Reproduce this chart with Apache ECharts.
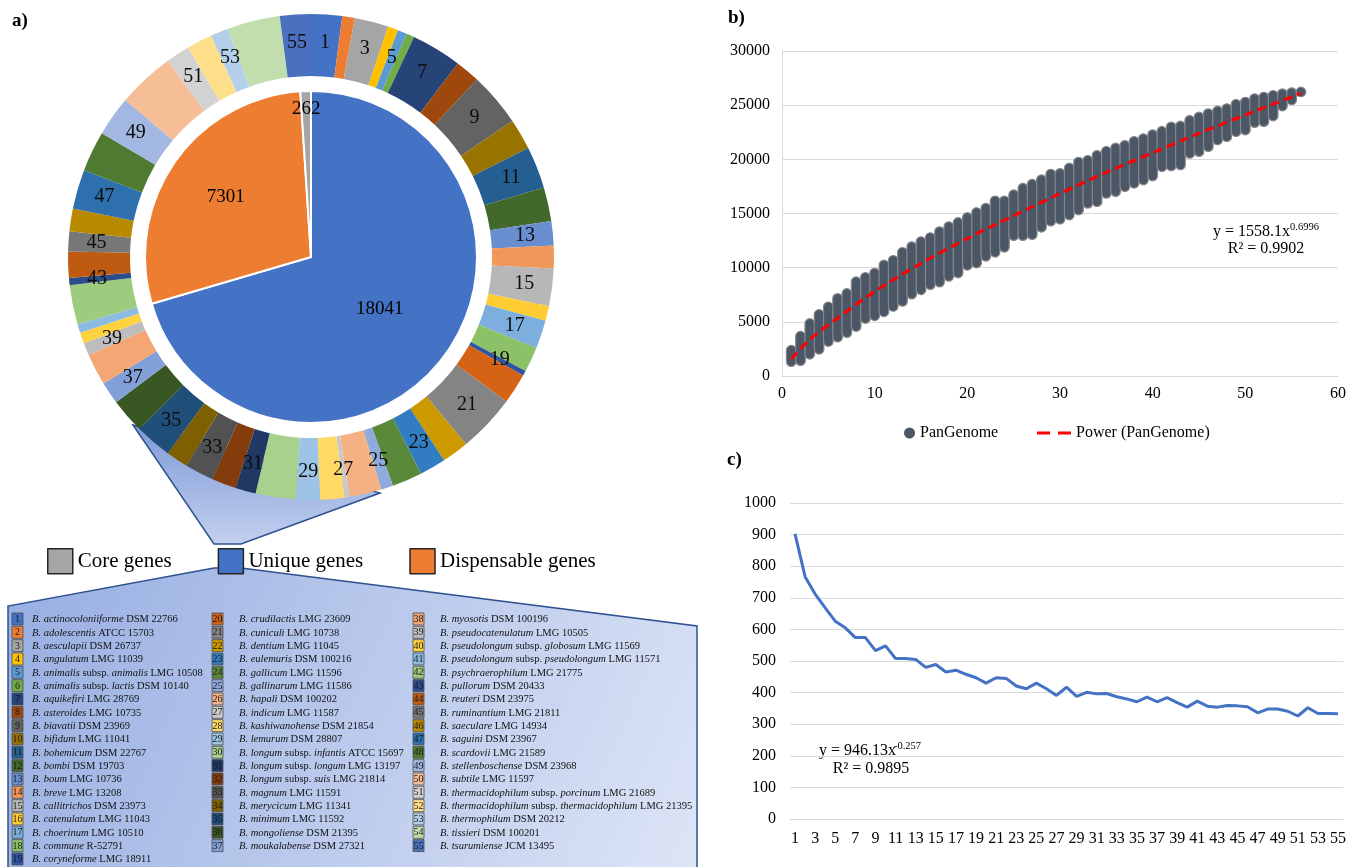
<!DOCTYPE html>
<html><head><meta charset="utf-8">
<script src="https://cdn.jsdelivr.net/npm/echarts@6/dist/echarts.min.js"></script>
<style>html,body{margin:0;padding:0;background:#fff}#c{width:1349px;height:867px}</style>
</head><body><div id="c"></div>
<script>
// ---------- Panel a data ----------
const innerNames = ['Unique genes', 'Dispensable genes', 'Core genes'];
const innerValues = [18041, 7301, 262];
const innerColors = ['#4472C4', '#ED7D31', '#A5A5A5'];
const legendOrder = ['Core genes', 'Unique genes', 'Dispensable genes'];

const strainIds = [1,2,3,4,5,6,7,8,9,10,11,12,13,14,15,16,17,18,19,20,21,22,23,24,25,26,27,28,29,30,31,32,33,34,35,36,37,38,39,40,41,42,43,44,45,46,47,48,49,50,51,52,53,54,55];
const uniqueGenes = [371,150,406,125,110,95,606,296,646,371,501,406,291,271,451,175,341,301,60,366,696,321,316,361,145,381,60,296,286,481,246,291,346,266,441,421,266,381,150,130,105,471,85,316,240,271,471,486,481,686,286,306,215,631,371];
const strainColors = ['#4472C4','#ED7D31','#A5A5A5','#FFC000','#5B9BD5','#70AD47','#264478','#9E480E','#636363','#997300','#255E91','#43682B','#698ED0','#F1975A','#B7B7B7','#FFCD33','#7CAFDD','#8CC168','#2F55A0','#D46316','#848484','#CC9A00','#327DC2','#5A8A39','#8FAADC','#F4B183','#C9C9C9','#FFD966','#9DC3E6','#A9D18E','#203864','#843C0C','#525252','#7F6000','#1F4E79','#385723','#839FD8','#F4A774','#BDBDBD','#FFD33F','#8DBAE2','#9DCC7E','#2C4D8A','#BE5A12','#777777','#B88A00','#2E6FAE','#4F7A32','#A2B7E2','#F6BE96','#D2D2D2','#FFE08A','#B3CFEA','#C2DEAF','#4B70C0'];
const strainNames = [
'_B. actinocoloniiforme_ DSM 22766','_B. adolescentis_ ATCC 15703','_B. aesculapii_ DSM 26737','_B. angulatum_ LMG 11039',
'_B. animalis_ subsp. _animalis_ LMG 10508','_B. animalis_ subsp. _lactis_ DSM 10140','_B. aquikefiri_ LMG 28769','_B. asteroides_ LMG 10735',
'_B. biavatii_ DSM 23969','_B. bifidum_ LMG 11041','_B. bohemicum_ DSM 22767','_B. bombi_ DSM 19703','_B. boum_ LMG 10736',
'_B. breve_ LMG 13208','_B. callitrichos_ DSM 23973','_B. catenulatum_ LMG 11043','_B. choerinum_ LMG 10510','_B. commune_ R-52791',
'_B. coryneforme_ LMG 18911','_B. crudilactis_ LMG 23609','_B. cuniculi_ LMG 10738','_B. dentium_ LMG 11045','_B. eulemuris_ DSM 100216',
'_B. gallicum_ LMG 11596','_B. gallinarum_ LMG 11586','_B. hapali_ DSM 100202','_B. indicum_ LMG 11587','_B. kashiwanohense_ DSM 21854',
'_B. lemurum_ DSM 28807','_B. longum_ subsp. _infantis_ ATCC 15697','_B. longum_ subsp. _longum_ LMG 13197','_B. longum_ subsp. _suis_ LMG 21814',
'_B. magnum_ LMG 11591','_B. merycicum_ LMG 11341','_B. minimum_ LMG 11592','_B. mongoliense_ DSM 21395','_B. moukalabense_ DSM 27321',
'_B. myosotis_ DSM 100196','_B. pseudocatenulatum_ LMG 10505','_B. pseudolongum_ subsp. _globosum_ LMG 11569',
'_B. pseudolongum_ subsp. _pseudolongum_ LMG 11571','_B. psychraerophilum_ LMG 21775','_B. pullorum_ DSM 20433','_B. reuteri_ DSM 23975',
'_B. ruminantium_ LMG 21811','_B. saeculare_ LMG 14934','_B. saguini_ DSM 23967','_B. scardovii_ LMG 21589','_B. stellenboschense_ DSM 23968',
'_B. subtile_ LMG 11597','_B. thermacidophilum_ subsp. _porcinum_ LMG 21689','_B. thermacidophilum_ subsp. _thermacidophilum_ LMG 21395',
'_B. thermophilum_ DSM 20212','_B. tissieri_ DSM 100201','_B. tsurumiense_ JCM 13495'];

// ---------- Panel b data (pan-genome size per number of genomes: read min/max of each column) ----------
const panX = [1,2,3,4,5,6,7,8,9,10,11,12,13,14,15,16,17,18,19,20,21,22,23,24,25,26,27,28,29,30,31,32,33,34,35,36,37,38,39,40,41,42,43,44,45,46,47,48,49,50,51,52,53,54,55,56];
const panMax = [2380,3670,4850,5680,6390,7160,7620,8700,9100,9500,10250,10680,11420,11940,12400,12780,13330,13790,14170,14630,15090,15490,16170,16170,16730,17340,17710,18120,18640,18700,19200,19750,19910,20370,20740,21050,21290,21660,21910,22280,22590,22990,23080,23600,23910,24220,24460,24680,25080,25290,25600,25750,25910,26060,26160,26220];
const panMin = [1330,1420,2010,2470,3180,3580,4010,4570,5310,5560,5930,6420,6880,7560,7960,8430,8670,9200,9510,10220,10430,11050,11420,11880,12960,12960,13050,13730,14290,14480,14860,15320,15940,16090,16860,17020,17480,17790,18090,18460,19320,19390,19480,20550,20710,21170,21790,22090,22550,22710,23390,23480,24000,24920,25480,26220];
const trendX = [1,3,6,10,15,20,25,30,35,40,45,50,56];
const trendY = [1560,3380,5350,7800,10400,12700,14800,16850,18800,20600,22400,24100,26100];
const xTicksB = [0,10,20,30,40,50,60];
const yTicksB = [0,5000,10000,15000,20000,25000,30000];

// ---------- Panel c data (new genes) ----------
const newGenesX = ['1','2','3','4','5','6','7','8','9','10','11','12','13','14','15','16','17','18','19','20','21','22','23','24','25','26','27','28','29','30','31','32','33','34','35','36','37','38','39','40','41','42','43','44','45','46','47','48','49','50','51','52','53','54','55'];
const newGenesY = [902,767,712,668,626,605,574,574,533,548,508,508,505,480,489,465,471,458,447,430,447,445,421,412,430,412,391,417,388,401,396,397,387,380,371,386,371,384,368,354,373,357,354,359,358,355,336,348,348,341,326,352,334,334,333];
const yTicksC = [0,100,200,300,400,500,600,700,800,900,1000];

// ---------- build ----------
const serif = "'Liberation Serif','Times New Roman',serif";
const chart = echarts.init(document.getElementById('c'));

function richName(s) {
  const parts = s.split('_');
  let out = '';
  parts.forEach((p, k) => { if (p.length) out += '{' + (k % 2 ? 'i' : 'n') + '|' + p + '}'; });
  return out;
}

const graphics = [];
// callout shapes
graphics.push({type:'polygon', z:0, shape:{points:[[133,425],[380,493],[241,544],[214,544]]},
  style:{fill:new echarts.graphic.LinearGradient(0,0,0,1,[{offset:0,color:'#7E9AD6'},{offset:1,color:'#C3D0EF'}]), stroke:'#2F528F', lineWidth:1.5}});
graphics.push({type:'polygon', z:0, shape:{points:[[214,568],[241,568],[697,626],[697,872],[8,872],[8,606]]},
  style:{fill:new echarts.graphic.LinearGradient(0,0,1,1,[{offset:0,color:'#97AEE2'},{offset:1,color:'#DDE5F6'}]), stroke:'#2F528F', lineWidth:1.5}});
// table
const colBoxX = [12, 212, 413], colTextX = [32, 239, 440];
const tFont = 10.5;
strainIds.forEach((id, i) => {
  let col, row;
  if (i < 19) { col = 0; row = i; } else if (i < 37) { col = 1; row = i - 19; } else { col = 2; row = i - 37; }
  const yc = 619 + row * 13.33;
  graphics.push({type:'rect', z:2, shape:{x:colBoxX[col], y:yc-6, width:11, height:12}, style:{fill:strainColors[i], stroke:'#4d4d4d', lineWidth:0.8}});
  graphics.push({type:'text', z:3, x:colBoxX[col]+5.5, y:yc+0.5, style:{text:String(id), align:'center', verticalAlign:'middle', fontSize:10, fontFamily:serif, fill:'#1a1a1a'}});
  graphics.push({type:'text', z:3, x:colTextX[col], y:yc+0.5, style:{text:richName(strainNames[i]), verticalAlign:'middle', fontSize:tFont, fontFamily:serif, fill:'#111',
    rich:{i:{fontStyle:'italic', fontSize:tFont, fontFamily:serif, fill:'#111', color:'#111'}, n:{fontSize:tFont, fontFamily:serif, fill:'#111', color:'#111'}}}});
});
// panel titles
graphics.push({type:'text', x:12, y:12, style:{text:'a)', fontSize:19, fontWeight:'bold', fontFamily:serif, fill:'#000'}});
graphics.push({type:'text', x:728, y:9, style:{text:'b)', fontSize:19, fontWeight:'bold', fontFamily:serif, fill:'#000'}});
graphics.push({type:'text', x:727, y:451, style:{text:'c)', fontSize:19, fontWeight:'bold', fontFamily:serif, fill:'#000'}});
// equations
graphics.push({type:'text', x:1213, y:232, style:{text:'y = 1558.1x', verticalAlign:'middle', fontSize:16, fontFamily:serif, fill:'#000'}});
graphics.push({type:'text', x:1290, y:227, style:{text:'0.6996', verticalAlign:'middle', fontSize:10.5, fontFamily:serif, fill:'#000'}});
graphics.push({type:'text', x:1266, y:249, style:{text:'R² = 0.9902', align:'center', verticalAlign:'middle', fontSize:16, fontFamily:serif, fill:'#000'}});
graphics.push({type:'text', x:819, y:751, style:{text:'y = 946.13x', verticalAlign:'middle', fontSize:16, fontFamily:serif, fill:'#000'}});
graphics.push({type:'text', x:894, y:746, style:{text:'-0.257', verticalAlign:'middle', fontSize:10.5, fontFamily:serif, fill:'#000'}});
graphics.push({type:'text', x:871, y:769, style:{text:'R² = 0.9895', align:'center', verticalAlign:'middle', fontSize:16, fontFamily:serif, fill:'#000'}});

const innerData = innerNames.map((n, i) => ({name:n, value:innerValues[i], itemStyle:{color:innerColors[i]}}));
const innerGhost = innerNames.map((n, i) => ({name:n, value:innerValues[i]}));
const labelFont = {fontSize:19, fontFamily:serif, color:'#000'};
const axisLabelStyle = {fontSize:16, fontFamily:serif, color:'#000', formatter:v => String(v)};

const option = {
  animation:false,
  backgroundColor:'#fff',
  legend:[
    {data:legendOrder, left:42, top:543, orient:'horizontal', itemWidth:25, itemHeight:25, itemGap:46, icon:'rect', selectedMode:false,
     textStyle:{fontSize:21, fontFamily:serif, color:'#000'}, itemStyle:{borderColor:'#262626', borderWidth:1.5}},
    {data:[{name:'PanGenome', icon:'circle'}], left:899, top:420, itemWidth:11, itemHeight:11, selectedMode:false,
     textStyle:{fontSize:16, fontFamily:serif, color:'#000'}},
    {data:[{name:'Power (PanGenome)', icon:'path://M0,0h13v3h-13z M21,0h13v3h-13z'}], left:1032, top:420, itemWidth:34, itemHeight:3, selectedMode:false,
     itemStyle:{color:'#FF0000'}, textStyle:{fontSize:16, fontFamily:serif, color:'#000'}}
  ],
  grid:[
    {left:782, top:51, width:558, height:325},
    {left:790, top:503, width:557, height:316}
  ],
  xAxis:[
    {gridIndex:0, type:'value', min:xTicksB[0], max:xTicksB[xTicksB.length-1], interval:10,
     axisLine:{show:true, lineStyle:{color:'#D9D9D9'}}, axisTick:{show:false}, splitLine:{show:false},
     axisLabel:Object.assign({margin:10}, axisLabelStyle)},
    {gridIndex:1, type:'category', data:newGenesX, boundaryGap:true,
     axisLine:{show:true, lineStyle:{color:'#D9D9D9'}}, axisTick:{show:false},
     axisLabel:{margin:12, interval:1, fontSize:16, fontFamily:serif, color:'#000'}}
  ],
  yAxis:[
    {gridIndex:0, type:'value', min:yTicksB[0], max:yTicksB[yTicksB.length-1], interval:5000,
     axisLine:{show:true, lineStyle:{color:'#D9D9D9'}}, axisTick:{show:false},
     splitLine:{lineStyle:{color:'#D9D9D9'}}, axisLabel:Object.assign({margin:12}, axisLabelStyle)},
    {gridIndex:1, type:'value', min:yTicksC[0], max:yTicksC[yTicksC.length-1], interval:100,
     axisLine:{show:false}, axisTick:{show:false},
     splitLine:{lineStyle:{color:'#D9D9D9'}}, axisLabel:Object.assign({margin:14}, axisLabelStyle)}
  ],
  graphic:{elements:graphics},
  series:[
    {type:'pie', name:'genes', z:5, center:[311,257], radius:[0,166], startAngle:90, clockwise:true, silent:true,
     avoidLabelOverlap:false, data:innerData, itemStyle:{borderColor:'#fff', borderWidth:2},
     label:Object.assign({show:true, position:'inside', formatter:p => p.dataIndex === 0 ? String(p.value) : ''}, labelFont),
     labelLine:{show:false}},
    {type:'pie', name:'ghostA', z:6, center:[311,257], radius:[36,166], startAngle:90, clockwise:true, silent:true,
     avoidLabelOverlap:false, data:innerGhost, itemStyle:{color:'rgba(0,0,0,0)', borderWidth:0},
     label:Object.assign({show:true, position:'inside', formatter:p => p.dataIndex === 1 ? String(p.value) : ''}, labelFont),
     labelLine:{show:false}},
    {type:'pie', name:'ghostB', z:6, center:[311,257], radius:[124,166], startAngle:90, clockwise:true, silent:true,
     avoidLabelOverlap:false, data:innerGhost, itemStyle:{color:'rgba(0,0,0,0)', borderWidth:0},
     label:Object.assign({show:true, position:'inside', formatter:p => p.dataIndex === 2 ? String(p.value) : ''}, labelFont),
     labelLine:{show:false}},
    {type:'pie', name:'strains', z:5, center:[311,257], radius:[181,243], startAngle:90, clockwise:true, silent:true,
     avoidLabelOverlap:false,
     data:strainIds.map((id, i) => ({name:String(id), value:uniqueGenes[i], itemStyle:{color:strainColors[i]}})),
     label:{show:true, position:'inside', fontSize:20, fontFamily:serif, color:'#0d0d0d',
       formatter:p => (strainIds[p.dataIndex] % 2 === 1) ? String(strainIds[p.dataIndex]) : ''},
     labelLine:{show:false}},
    {type:'custom', name:'PanGenome', xAxisIndex:0, yAxisIndex:0, z:2,
     itemStyle:{color:'#4B5667'},
     data:panX.map((x, i) => [x, panMax[i], panMin[i]]),
     encode:{x:0, y:[1,2]},
     renderItem:function(params, api){
       const x = api.value(0);
       const p1 = api.coord([x, api.value(1)]);
       const p2 = api.coord([x, api.value(2)]);
       const r = 4.8;
       return {type:'rect', shape:{x:p1[0]-r, y:p1[1]-r, width:2*r, height:p2[1]-p1[1]+2*r, r:r},
         style:{fill:'#4B5667', stroke:'#858585', lineWidth:1.2}};
     }},
    {type:'line', name:'Power (PanGenome)', xAxisIndex:0, yAxisIndex:0, z:4, smooth:0.3, symbol:'none',
     data:trendX.map((x, i) => [x, trendY[i]]),
     lineStyle:{color:'#FF0000', width:3, type:[9,5]}, itemStyle:{color:'#FF0000'}},
    {type:'line', name:'New genes', xAxisIndex:1, yAxisIndex:1, symbol:'none', data:newGenesY,
     lineStyle:{color:'#4472C4', width:3}, itemStyle:{color:'#4472C4'}}
  ]
};
chart.setOption(option);
</script>
</body></html>
